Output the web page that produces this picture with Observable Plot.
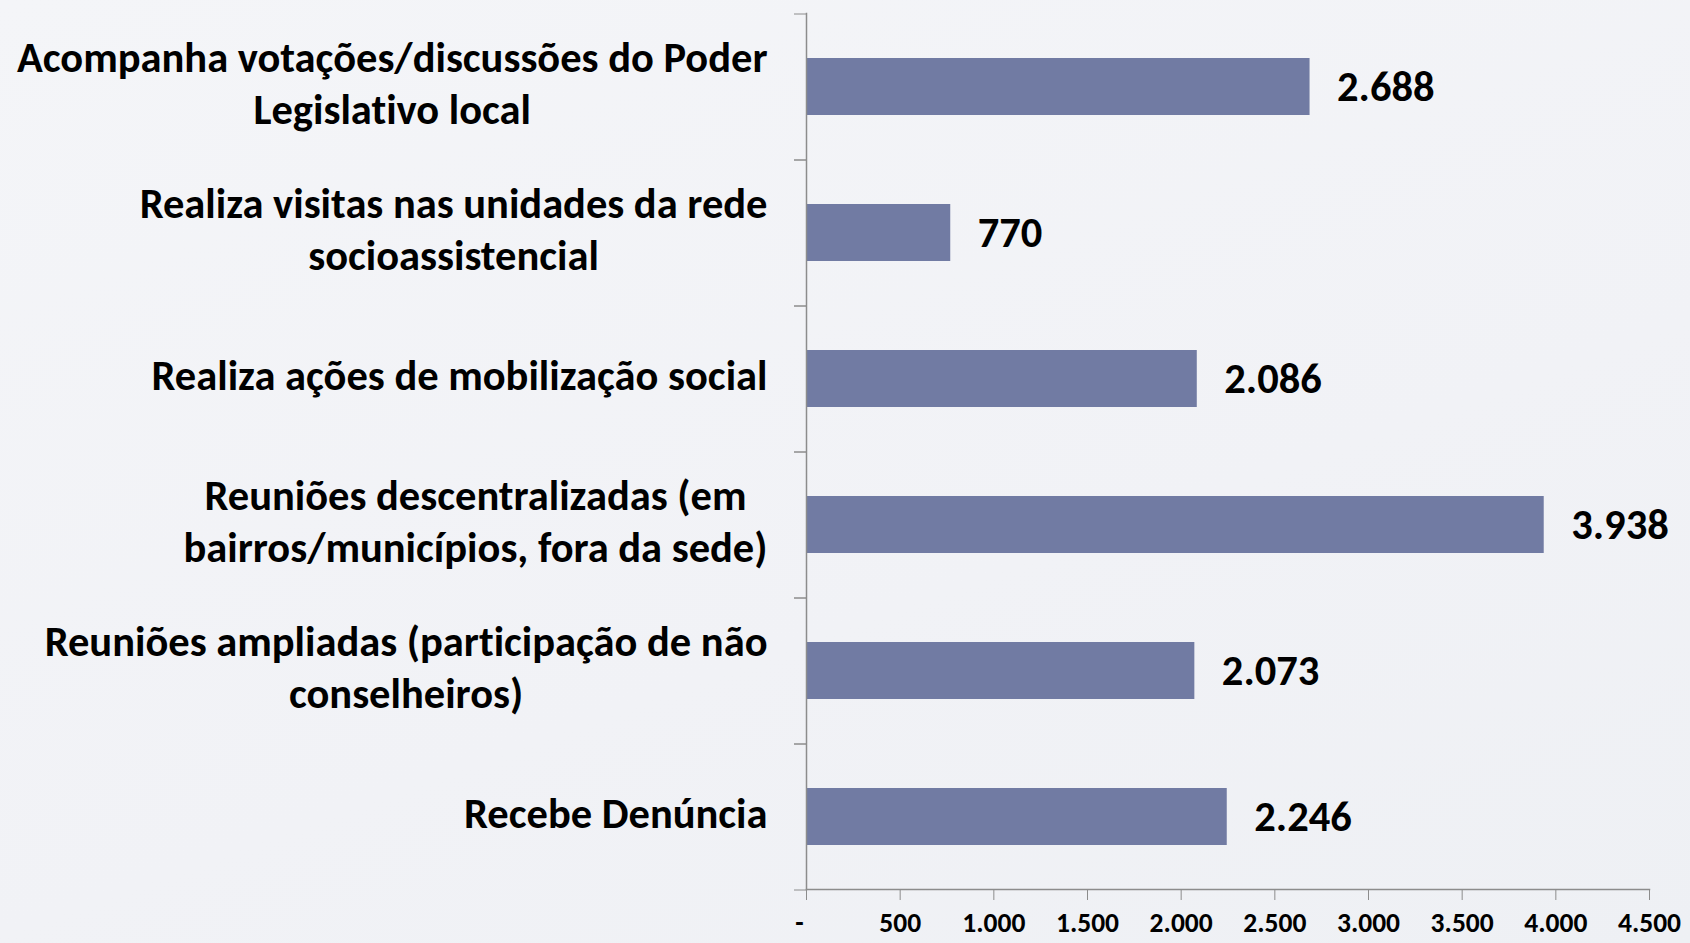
<!DOCTYPE html>
<html>
<head>
<meta charset="utf-8">
<script src="https://cdn.jsdelivr.net/npm/d3@7"></script>
<script src="https://cdn.jsdelivr.net/npm/@observablehq/plot@0.6"></script>
<style>
  html, body { margin: 0; padding: 0; }
  body { width: 1690px; height: 943px; overflow: hidden;
         background: linear-gradient(160deg, #f4f5f8 0%, #f1f2f6 60%, #eef0f4 100%); }
  svg text { font-variant-ligatures: none; font-feature-settings: "liga" 0, "clig" 0; }
</style>
</head>
<body>
<div id="chart"></div>
<script>
const categories = [
  "Acompanha votações/discussões do Poder\nLegislativo local",
  "Realiza visitas nas unidades da rede\nsocioassistencial",
  "Realiza ações de mobilização social",
  "Reuniões descentralizadas (em\nbairros/municípios, fora da sede)",
  "Reuniões ampliadas (participação de não\nconselheiros)",
  "Recebe Denúncia"
];
const values = [2688, 770, 2086, 3938, 2073, 2246];
const xTicks = [0, 500, 1000, 1500, 2000, 2500, 3000, 3500, 4000, 4500];

const data = categories.map((c, i) => ({category: c, value: values[i]}));

const W = 1690, H = 943, mL = 806, mR = 41, mT = 13, mB = 54;
const FONT = "Carlito, Calibri, Lato, 'Open Sans', sans-serif";
const AXIS = "#8c8c8c";
const fmt = d3.formatLocale({decimal: ",", thousands: ".", grouping: [3], currency: ["R$", ""]}).format(",d");
const half = (H - mT - mB) / categories.length / 2;
const labelSize = 42.5;

const chart = Plot.plot({
  width: W, height: H,
  marginLeft: mL, marginRight: mR, marginTop: mT, marginBottom: mB,
  style: {background: "transparent", fontFamily: FONT, fontWeight: "bold", color: "#000", overflow: "visible"},
  x: {domain: [0, 4500]},
  y: {domain: categories, paddingInner: 0.61, paddingOuter: 0.305},
  marks: [
    Plot.barX(data, {x: "value", y: "category", fill: "#717ba3"}),
    Plot.text(data, {x: "value", y: "category", text: d => fmt(d.value), textAnchor: "start", dx: 27,
                     fontSize: 42.5, fontWeight: "bold", fill: "#000"}),
    Plot.axisY({tickSize: 0, tickPadding: 39, fontSize: labelSize, lineHeight: 52 / labelSize,
                dy: -6, fill: "#000", label: null}),
    Plot.axisY({tickSize: 12, tickFormat: () => "", dy: -half, stroke: AXIS, label: null}),
    Plot.axisY({tickSize: 12, tickFormat: () => "", dy: half, stroke: AXIS, label: null}),
    Plot.axisX({ticks: xTicks, tickSize: 11, tickPadding: 12, stroke: AXIS, fill: "#000",
                tickFormat: d => d === 0 ? "-" : fmt(d), fontSize: 27.5, label: null}),
    Plot.frame({anchor: "left", stroke: AXIS, strokeWidth: 1.5}),
    Plot.frame({anchor: "bottom", stroke: AXIS, strokeWidth: 1.5})
  ]
});
document.getElementById("chart").append(chart);

// center multi-line category labels within their block (right edge fixed)
chart.querySelectorAll('g[aria-label="y-axis tick label"] text').forEach(t => {
  const spans = t.querySelectorAll("tspan");
  if (spans.length < 2) return;
  let maxW = 0;
  spans.forEach(s => { maxW = Math.max(maxW, s.getComputedTextLength()); });
  spans.forEach(s => { s.setAttribute("x", -maxW / 2); s.setAttribute("text-anchor", "middle"); });
});
// the zero tick label ("-") sits slightly left of its tick, as in the original
chart.querySelectorAll('g[aria-label="x-axis tick label"] text').forEach(t => {
  if (t.textContent === "-") t.setAttribute("dx", -7);
});
</script>
</body>
</html>
